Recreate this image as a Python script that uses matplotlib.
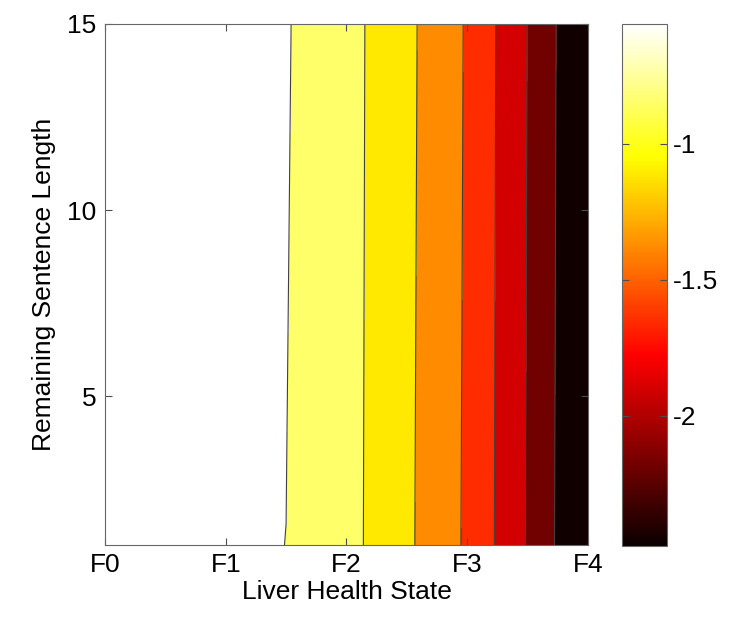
import numpy as np
import matplotlib
matplotlib.use("Agg")
import matplotlib.pyplot as plt
from matplotlib.colors import Normalize
from matplotlib.cm import ScalarMappable

plt.rcParams['font.family'] = ['Liberation Sans', 'DejaVu Sans']

# liver health state grid (F0..F4) and remaining sentence length
state = [0, 0.25, 0.5, 0.75, 1.0, 1.25, 1.5, 1.75, 2.0, 2.25, 2.5, 2.75, 3.0, 3.25, 3.5, 3.75, 4.0]
sentence = [1, 15]

# value at sentence length 1 and 15
value_len1 = [-0.560, -0.561, -0.562, -0.564, -0.567, -0.571, -0.5805, -0.675, -0.780,
              -0.905, -1.065, -1.235, -1.418, -1.676, -1.928, -2.210, -2.480]
value_len15 = [-0.560, -0.561, -0.562, -0.564, -0.567, -0.571, -0.568, -0.640, -0.775,
               -0.898, -1.052, -1.222, -1.404, -1.664, -1.913, -2.195, -2.480]

levels = [-2.46, -2.18, -1.91, -1.65, -1.38, -1.11, -0.85, -0.58]
clim = (-2.48, -0.56)

state_labels = ["F0", "F1", "F2", "F3", "F4"]
cbar_ticks = [-2, -1.5, -1]

X, Y = np.meshgrid(state, sentence)
Z = np.array([value_len1, value_len15])

norm = Normalize(*clim)
cmap = plt.get_cmap('hot')
band_colors = [cmap(norm(l)) for l in levels[:-1]] + ['white']
bounds = [-2.6] + levels[1:] + [-0.5]

fig = plt.figure(figsize=(7.33, 6.25), dpi=100)
ax = fig.add_axes([0.1432, 0.128, 0.6589, 0.8336])
cax = fig.add_axes([0.8486, 0.1264, 0.0614, 0.8352])

ax.contourf(X, Y, Z, levels=bounds, colors=band_colors)
ax.contour(X, Y, Z, levels=levels[1:], colors='0.25', linewidths=0.8,
           linestyles='solid')

ax.set_xlim(0, 4)
ax.set_ylim(1, 15)
ax.set_xticks(range(5))
ax.set_xticklabels(state_labels)
ax.set_yticks([5, 10, 15])
ax.tick_params(direction='in', top=True, right=True, length=5, color='0.3',
               labelsize=19, pad=6)
for s in ax.spines.values():
    s.set_color('0.4')
ax.set_xlabel("Liver Health State", fontsize=19, labelpad=2)
ax.set_ylabel("Remaining Sentence Length", fontsize=19, labelpad=8)

cb = fig.colorbar(ScalarMappable(norm=norm, cmap=cmap), cax=cax)
cb.set_ticks(cbar_ticks)
cb.set_ticklabels(["-2", "-1.5", "-1"])
cax.tick_params(direction='in', left=True, right=True, length=5, color='0.3',
                labelsize=19, pad=4)
cb.outline.set_edgecolor('0.4')

fig.savefig("out.png", dpi=100)
